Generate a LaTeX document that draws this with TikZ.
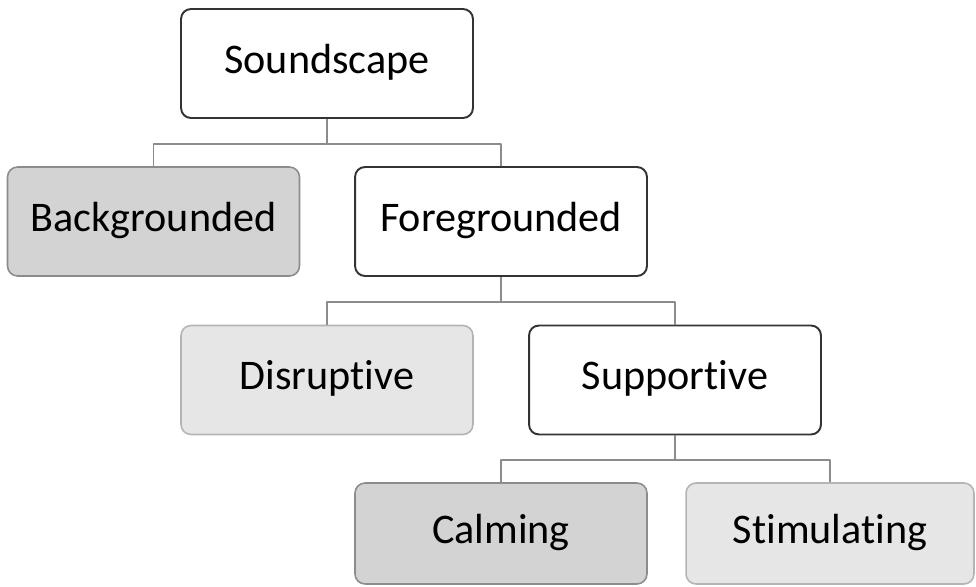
\documentclass[tikz,border=0pt]{standalone}
\usepackage{fontspec}
\setmainfont{Carlito}[Ligatures={NoCommon}]
\definecolor{darkfill}{HTML}{D3D3D3}
\definecolor{darkline}{HTML}{8C8C8C}
\definecolor{lightfill}{HTML}{E6E6E6}
\definecolor{lightline}{HTML}{B4B4B4}
\definecolor{plainline}{HTML}{333333}
\definecolor{linkgray}{HTML}{8C8C8C}
\begin{document}
\begin{tikzpicture}[x=0.02cm,y=-0.02cm,line join=round,
  every node/.style={inner sep=0pt,font=\fontsize{24}{28}\selectfont,text height=0.6cm,text depth=0.2cm},
  cat/.style={rectangle,rounded corners=0.2cm,minimum width=5.84cm,minimum height=2.18cm},
  plainbox/.style={cat,draw=plainline,fill=white,line width=1.1pt},
  darkbox/.style={cat,draw=darkline,fill=darkfill,line width=0.9pt},
  lightbox/.style={cat,draw=lightline,fill=lightfill,line width=0.9pt},
  link/.style={draw=linkgray,line width=1.1pt}]
  \useasboundingbox (0,0) rectangle (976,587);
  % 第一层
  \node[plainbox] (sound) at (327,63.5) {Soundscape};
  % 第二层
  \node[darkbox] (back) at (153.5,221.5) {Backgrounded};
  \node[plainbox] (fore) at (501,221.5) {Foregrounded};
  % 第三层
  \node[lightbox] (disr) at (327,380) {Disruptive};
  \node[plainbox] (supp) at (675,380) {Supportive};
  % 第四层
  \node[darkbox,minimum height=2.02cm] (calm) at (501,533.5) {Calming};
  \node[lightbox,minimum height=2.02cm,minimum width=5.76cm] (stim) at (830,533.5) {Stimulating};
  % 连线
  \foreach \p/\a/\b in {sound/back/fore,fore/disr/supp,supp/calm/stim} {
    \draw[link] (\p.south) -- ++(0,25) coordinate (bus);
    \draw[link] (\a.north) |- (bus) -| (\b.north);
  }
\end{tikzpicture}
\end{document}
